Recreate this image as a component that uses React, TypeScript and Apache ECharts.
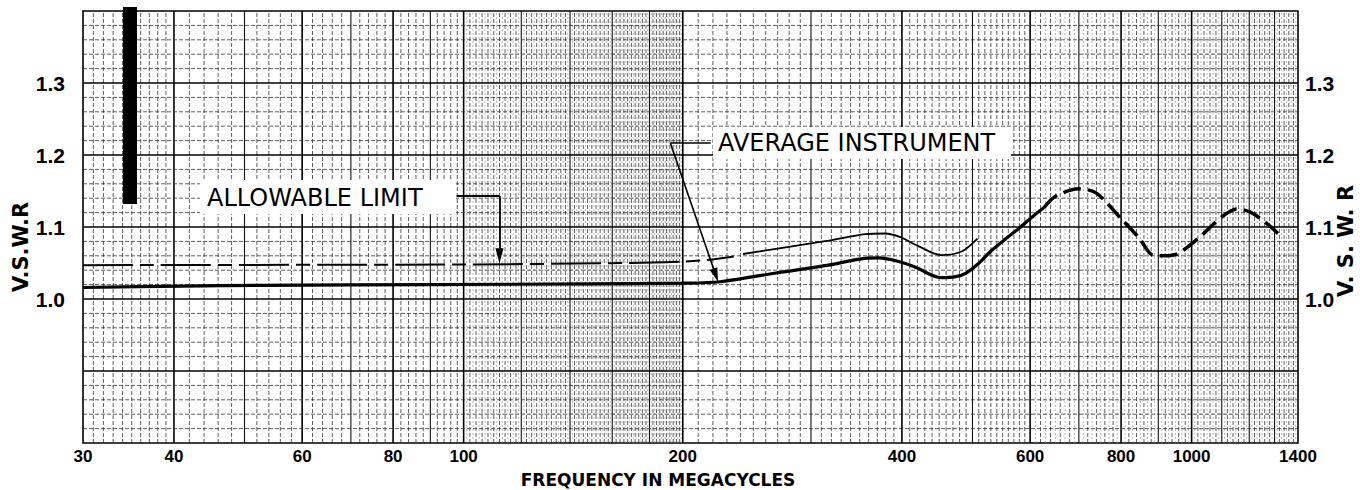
import React, { useEffect, useRef } from "react";
import * as echarts from "echarts";

// ---- axis ranges & labels ----
const X_MIN = 30;
const X_MAX = 1400;
const Y_MIN = 0.8;
const Y_MAX = 1.4;
const xTickLabels = [30, 40, 60, 80, 100, 200, 400, 600, 800, 1000, 1400];
const yLabelValues = [1.0, 1.1, 1.2, 1.3];

// ---- curves: [frequency MHz, V.S.W.R] ----
const avgSolid: [number, number][] = [
  [30, 1.016], [41, 1.018], [53, 1.019], [90, 1.02], [150, 1.021], [200, 1.022],
  [225, 1.024], [270, 1.0365], [317, 1.047], [356, 1.0565], [372, 1.057],
  [396, 1.052], [420, 1.043], [439, 1.0333], [453, 1.0296], [474, 1.031],
  [490, 1.036], [510, 1.0496], [532, 1.068], [556, 1.084], [579, 1.098],
  [604, 1.114], [627, 1.127],
];
const avgDashed: [number, number][] = [
  [627, 1.127], [651, 1.143], [700, 1.153], [740, 1.147], [796, 1.114],
  [848, 1.084], [884, 1.061], [918, 1.06], [957, 1.063], [1026, 1.086],
  [1100, 1.114], [1153, 1.125], [1202, 1.121], [1261, 1.107], [1314, 1.091],
];
const limitFlat: [number, number][] = [
  [30, 1.047], [100, 1.048], [170, 1.05], [200, 1.052], [215, 1.054], [235, 1.059],
];
const limitRise: [number, number][] = [
  [242, 1.0625], [270, 1.07], [317, 1.081], [356, 1.09], [379, 1.091],
  [398, 1.086], [422, 1.073], [453, 1.061], [483, 1.066], [508, 1.084],
];

// ---- annotation anchor points (data space) ----
const limitLeader: [number, number][] = [[97.8, 1.143], [112, 1.143], [112, 1.06]];
const avgLeader: [number, number][] = [[218.4, 1.2167], [192.3, 1.2167], [222, 1.033]];

// ---- graph paper rulings ----
function range(a: number, b: number, s: number): number[] {
  const out: number[] = [];
  for (let v = a; v <= b + 1e-9; v += s) out.push(v);
  return out;
}
const vMajor = [40, 60, 80, 100, 200, 400, 600, 800, 1000];
const vMedium = [50, 70, 90, 120, 140, 160, 180, 300, 500, 700, 900, 1100, 1200, 1300];
const vMinor = [
  ...range(31, 39, 1), ...range(42, 58, 2), ...range(62, 98, 2), ...range(102, 198, 2),
  ...range(210, 390, 10), ...range(410, 590, 10), ...range(620, 980, 20), ...range(1020, 1380, 20),
].filter((v) => !vMajor.includes(v) && !vMedium.includes(v));
const vFine = [...range(101, 199, 2), ...range(610, 990, 20), ...range(1010, 1390, 20)];
const hMajor = [0.9, 1.0, 1.1, 1.2, 1.3];
const hMinor = range(41, 69, 1).filter((i) => i % 5 !== 0).map((i) => (i * 2) / 100);

const gridStyles = [
  { stroke: "#000", lineWidth: 1.6 },
  { stroke: "#111", lineWidth: 1.1 },
  { stroke: "#333", lineWidth: 0.8, lineDash: [4, 2] },
  { stroke: "#8a8a8a", lineWidth: 0.6, lineDash: [2, 2] },
];

const FONT = "'DejaVu Sans', 'Liberation Sans', sans-serif";
const LFONT = "'Liberation Sans', Arial, sans-serif";

export default function App() {
  const ref = useRef<HTMLDivElement>(null);
  useEffect(() => {
    if (!ref.current) return;
    const chart = echarts.init(ref.current, undefined, { renderer: "svg" });

    const vData = [
      ...vMajor.map((x) => [x, Y_MIN, 0]),
      ...vMedium.map((x) => [x, Y_MIN, 1]),
      ...vMinor.map((x) => [x, Y_MIN, 2]),
      ...vFine.map((x) => [x, Y_MIN, 3]),
    ];
    const hData = [
      ...hMajor.map((y) => [X_MIN, y, 0]),
      ...hMinor.map((y) => [X_MIN, y, 2]),
    ];

    const yLabelFmt = (v: number) => {
      const r = Math.round(v * 10) / 10;
      return yLabelValues.includes(r) ? r.toFixed(1) : "";
    };
    const yAxisBase = {
      type: "value",
      min: Y_MIN,
      max: Y_MAX,
      interval: 0.1,
      axisLine: { show: false },
      axisTick: { show: false },
      splitLine: { show: false },
    };

    const option: any = {
      animation: false,
      backgroundColor: "#fff",
      grid: {
        left: 83, top: 11, width: 1215, height: 432,
        show: true, borderColor: "#000", borderWidth: 1.6, backgroundColor: "#fff",
        outerBoundsMode: "none",
      },
      xAxis: {
        type: "log",
        logBase: 10,
        min: X_MIN,
        max: X_MAX,
        axisLine: { show: false },
        axisTick: { show: false },
        splitLine: { show: false },
        axisLabel: {
          customValues: xTickLabels,
          formatter: (v: number) => String(Math.round(v)),
          margin: 5,
          fontSize: 17,
          fontWeight: "bold",
          fontFamily: LFONT,
          color: "#000",
        },
      },
      yAxis: [
        {
          ...yAxisBase,
          position: "left",
          axisLabel: { formatter: yLabelFmt, margin: 18, fontSize: 21, fontWeight: "bold", fontFamily: LFONT, color: "#000" },
        },
        {
          ...yAxisBase,
          position: "right",
          axisLabel: { formatter: yLabelFmt, margin: 7, fontSize: 21, fontWeight: "bold", fontFamily: LFONT, color: "#000" },
        },
      ],
      series: [
        {
          type: "custom",
          name: "paper-v",
          z: 1,
          silent: true,
          data: vData,
          renderItem: (_p: any, api: any) => {
            const x = api.value(0);
            const cls = api.value(2);
            const a = api.coord([x, Y_MIN]);
            const b = api.coord([x, Y_MAX]);
            return { type: "line", shape: { x1: a[0], y1: a[1], x2: b[0], y2: b[1] }, style: { ...gridStyles[cls] } };
          },
        },
        {
          type: "custom",
          name: "paper-h",
          z: 1,
          silent: true,
          data: hData,
          renderItem: (_p: any, api: any) => {
            const y = api.value(1);
            const cls = api.value(2);
            const a = api.coord([X_MIN, y]);
            const b = api.coord([X_MAX, y]);
            return { type: "line", shape: { x1: a[0], y1: a[1], x2: b[0], y2: b[1] }, style: { ...gridStyles[cls] } };
          },
        },
        {
          type: "line",
          name: "Allowable limit",
          data: limitFlat,
          z: 3,
          smooth: 0.3,
          showSymbol: false,
          lineStyle: { color: "#000", width: 2, type: [50, 7, 14, 7] },
          markLine: {
            silent: true,
            symbol: "none",
            label: { show: false },
            lineStyle: { color: "#000", width: 1.8, type: "solid" },
            data: [
              [{ coord: limitLeader[0] }, { coord: limitLeader[1] }],
              [{ coord: limitLeader[1] }, { coord: limitLeader[2], symbol: "triangle", symbolSize: [8, 15] }],
            ],
          },
        },
        {
          type: "line",
          name: "Allowable limit (rise)",
          data: limitRise,
          z: 3,
          smooth: 0.3,
          showSymbol: false,
          lineStyle: { color: "#000", width: 1.8 },
        },
        {
          type: "line",
          name: "Average instrument",
          data: avgSolid,
          z: 3,
          smooth: 0.3,
          showSymbol: false,
          lineStyle: { color: "#000", width: 3.2 },
          markLine: {
            silent: true,
            symbol: "none",
            label: { show: false },
            lineStyle: { color: "#000", width: 1.6, type: "solid" },
            data: [
              [{ coord: avgLeader[0] }, { coord: avgLeader[1] }],
              [{ coord: avgLeader[1] }, { coord: avgLeader[2], symbol: "triangle", symbolSize: [8, 14] }],
            ],
          },
        },
        {
          type: "line",
          name: "Average instrument (extrapolated)",
          data: avgDashed,
          z: 3,
          smooth: 0.3,
          showSymbol: false,
          lineStyle: { color: "#000", width: 3.5, type: [18, 7] },
        },
      ],
      graphic: [
        { type: "rect", z: 100, shape: { x: 123, y: 7, width: 14, height: 197 }, style: { fill: "#000" } },
        { type: "rect", z: 100, shape: { x: 200, y: 180, width: 256, height: 34 }, style: { fill: "#fff" } },
        {
          type: "text", z: 101, x: 207, y: 198,
          style: { text: "ALLOWABLE LIMIT", fill: "#000", font: `24px ${FONT}`, align: "left", verticalAlign: "middle" },
        },
        { type: "rect", z: 100, shape: { x: 713, y: 127, width: 298, height: 32 }, style: { fill: "#fff" } },
        {
          type: "text", z: 101, x: 718, y: 143,
          style: { text: "AVERAGE INSTRUMENT", fill: "#000", font: `24px ${FONT}`, align: "left", verticalAlign: "middle" },
        },
        {
          type: "text", z: 101, x: 658, y: 480,
          style: { text: "FREQUENCY IN MEGACYCLES", fill: "#000", font: `bold 17px ${FONT}`, align: "center", verticalAlign: "middle" },
        },
        {
          type: "text", z: 101, x: 21, y: 247, rotation: Math.PI / 2,
          style: { text: "V.S.W.R", fill: "#000", font: `bold 21px ${FONT}`, align: "center", verticalAlign: "middle" },
        },
        {
          type: "text", z: 101, x: 1346, y: 241, rotation: Math.PI / 2,
          style: { text: "V. S. W. R", fill: "#000", font: `bold 21px ${FONT}`, align: "center", verticalAlign: "middle" },
        },
      ],
    };
    chart.setOption(option);
    return () => chart.dispose();
  }, []);
  return <div ref={ref} style={{ position: "fixed", left: 0, top: 0, width: 1360, height: 490 }} />;
}
